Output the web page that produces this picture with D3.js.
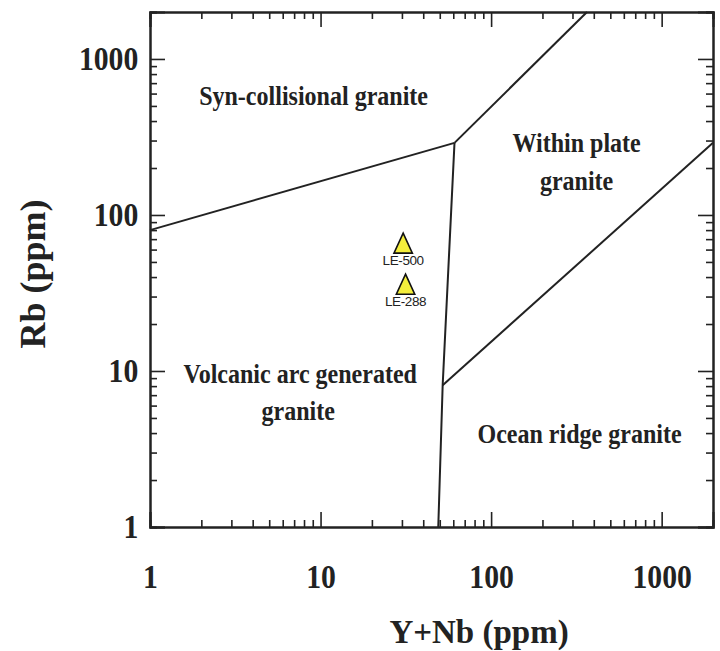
<!DOCTYPE html>
<html>
<head>
<meta charset="utf-8">
<script src="https://cdn.jsdelivr.net/npm/d3@7"></script>
<style>
  html, body { margin: 0; padding: 0; background: #fff; }
  svg { display: block; }
  .serif { font-family: "Liberation Serif", "Times New Roman", serif; font-weight: bold; fill: #222; }
</style>
</head>
<body>
<svg id="chart" width="720" height="651"></svg>
<script>
// Pearce et al. (1984) Rb vs Y+Nb discrimination diagram

// Axis ranges and labelled decades
const xDomain = [1, 2000];
const yDomain = [1, 2000];
const majorTicks = [1, 10, 100, 1000];

// Field boundaries, each as a polyline in (Y+Nb, Rb) ppm
const boundarySynVag = [[1, 80], [61, 290]];
const boundarySynWpg = [[61, 290], [365, 2000]];
const boundaryVertical = [[61, 290], [52, 8.1], [49, 1]];
const boundaryWpgOrg = [[52, 8.1], [2000, 290]];

// Samples
const sampleNames = ["LE-500", "LE-288"];
const sampleYNb = [30.5, 31.5];
const sampleRb = [66, 36];

// Field names: text lines and anchor positions in data space
const fieldLines = [
  ["Syn-collisional granite"],
  ["Within plate", "granite"],
  ["Volcanic arc generated", "granite"],
  ["Ocean ridge granite"]
];
const fieldX = [[9.1], [317, 317], [7.6, 7.4], [330]];
const fieldY = [[507], [253, 145], [8.4, 4.85], [3.45]];

const svg = d3.select("#chart");
const mLeft = 150, mRight = 713, mTop = 12, mBottom = 527;

const x = d3.scaleLog().domain(xDomain).range([mLeft, mRight]);
const y = d3.scaleLog().domain(yDomain).range([mBottom, mTop]);

// every 1..9 x 10^k inside the domain
function logTicks(domain) {
  const out = [];
  for (let e = 0; e <= 3; e++) for (let m = 1; m <= 9; m++) {
    const v = m * Math.pow(10, e);
    if (v >= domain[0] && v <= domain[1]) out.push(v);
  }
  return out;
}
const minorX = logTicks(xDomain).filter(v => !majorTicks.includes(v));
const minorY = logTicks(yDomain).filter(v => !majorTicks.includes(v));

const MAJ = 15, MIN = 7;

function styleAxis(g) {
  g.selectAll("path.domain").attr("stroke", "#222").attr("stroke-width", 2);
  g.selectAll(".tick line").attr("stroke", "#222").attr("stroke-width", 1.6);
}

// minor ticks on all four sides (pointing inward)
svg.append("g").attr("transform", `translate(0,${mBottom})`)
  .call(d3.axisBottom(x).tickValues(minorX).tickSize(-MIN).tickFormat(""))
  .call(styleAxis);
svg.append("g").attr("transform", `translate(0,${mTop})`)
  .call(d3.axisTop(x).tickValues(minorX).tickSize(-MIN).tickFormat(""))
  .call(styleAxis);
svg.append("g").attr("transform", `translate(${mLeft},0)`)
  .call(d3.axisLeft(y).tickValues(minorY).tickSize(-MIN).tickFormat(""))
  .call(styleAxis);
svg.append("g").attr("transform", `translate(${mRight},0)`)
  .call(d3.axisRight(y).tickValues(minorY).tickSize(-MIN).tickFormat(""))
  .call(styleAxis);

// major ticks with labels on bottom and left
const fmt = d3.format("d");
const gx = svg.append("g").attr("transform", `translate(0,${mBottom})`)
  .call(d3.axisBottom(x).tickValues(majorTicks).tickSize(-MAJ).tickPadding(38).tickFormat(fmt))
  .call(styleAxis);
const gy = svg.append("g").attr("transform", `translate(${mLeft},0)`)
  .call(d3.axisLeft(y).tickValues(majorTicks).tickSize(-MAJ).tickPadding(13).tickFormat(fmt))
  .call(styleAxis);
svg.append("g").attr("transform", `translate(0,${mTop})`)
  .call(d3.axisTop(x).tickValues(majorTicks).tickSize(-MAJ).tickFormat(""))
  .call(styleAxis);
svg.append("g").attr("transform", `translate(${mRight},0)`)
  .call(d3.axisRight(y).tickValues(majorTicks).tickSize(-MAJ).tickFormat(""))
  .call(styleAxis);

// tall, slightly narrow bold serif numerals
[gx, gy].forEach(g => g.selectAll(".tick text")
  .attr("class", "serif").attr("font-size", 33).attr("fill", "#222")
  .attr("transform", "scale(0.9,1)"));

// field boundaries
const line = d3.line().x(d => x(d[0])).y(d => y(d[1]));
[boundarySynVag, boundarySynWpg, boundaryVertical, boundaryWpgOrg].forEach(pts => {
  svg.append("path").attr("d", line(pts))
    .attr("fill", "none").attr("stroke", "#222").attr("stroke-width", 2)
    .attr("stroke-linejoin", "round");
});

// field names
fieldLines.forEach((lines, i) => {
  lines.forEach((t, j) => {
    svg.append("text").attr("class", "serif")
      .attr("transform", `translate(${x(fieldX[i][j])},${y(fieldY[i][j])}) scale(0.89,1)`)
      .attr("text-anchor", "middle").attr("font-size", 27)
      .text(t);
  });
});

// samples: yellow triangles with their names below
const tri = {
  draw(ctx, size) {
    const w = Math.sqrt(size) * 0.55, h = Math.sqrt(size) * 0.6;
    ctx.moveTo(0, -h);
    ctx.lineTo(w, h);
    ctx.lineTo(-w, h);
    ctx.closePath();
  }
};
const samples = sampleNames.map((n, i) => ({ name: n, xv: sampleYNb[i], yv: sampleRb[i] }));
const sg = svg.append("g").selectAll("g").data(samples).join("g")
  .attr("transform", d => `translate(${x(d.xv)},${y(d.yv)})`);
sg.append("path").attr("d", d3.symbol().type(tri).size(280))
  .attr("fill", "#f4ee3c").attr("stroke", "#111").attr("stroke-width", 1.6);
sg.append("text").attr("x", 0).attr("y", 22)
  .attr("text-anchor", "middle")
  .attr("font-family", "Liberation Sans, Arial, sans-serif")
  .attr("font-size", 13.5).attr("fill", "#222")
  .attr("letter-spacing", -0.4)
  .text(d => d.name);

// axis titles
svg.append("text").attr("class", "serif")
  .attr("x", 479).attr("y", 643)
  .attr("text-anchor", "middle").attr("font-size", 33)
  .text("Y+Nb (ppm)");
svg.append("text").attr("class", "serif")
  .attr("transform", `translate(45,274) rotate(-90)`)
  .attr("text-anchor", "middle").attr("font-size", 36)
  .text("Rb (ppm)");
</script>
</body>
</html>
